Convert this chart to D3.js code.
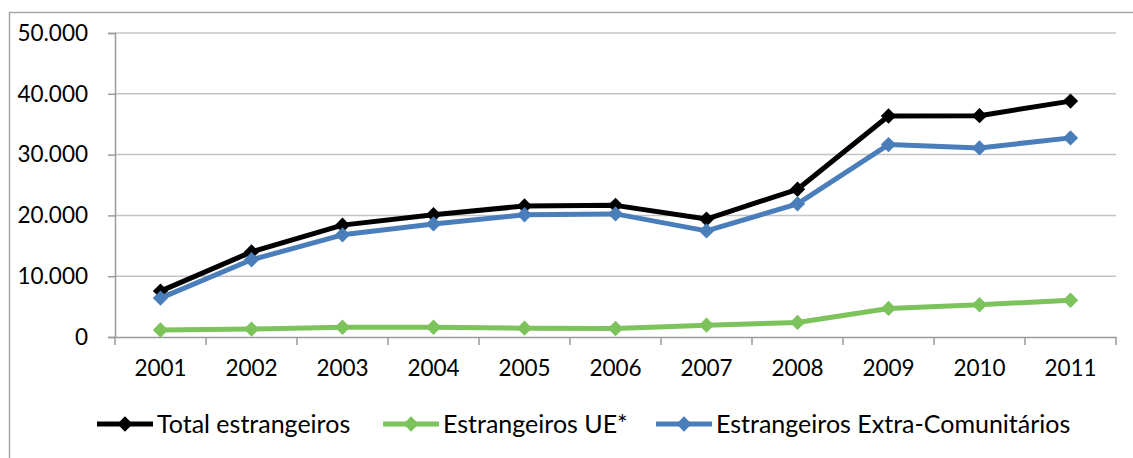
<!DOCTYPE html>
<html><head><meta charset="utf-8">
<script src="https://cdn.jsdelivr.net/npm/d3@7"></script>
<style>body{margin:0;background:#fff}svg{display:block}</style>
</head><body>
<svg id="c" width="1133" height="458"></svg>
<script>
const years = ["2001","2002","2003","2004","2005","2006","2007","2008","2009","2010","2011"];
const totalEstrangeiros = [7550,14000,18400,20100,21550,21650,19400,24300,36350,36400,38800];
const estrangeirosUE = [1150,1300,1600,1600,1450,1400,1950,2400,4700,5300,6050];
const estrangeirosExtra = [6400,12700,16800,18600,20100,20250,17450,21900,31650,31100,32750];
const yTicks = [0,10000,20000,30000,40000,50000];
const seriesNames = ["Total estrangeiros","Estrangeiros UE*","Estrangeiros Extra-Comunitários"];
const seriesColors = ["#000000","#7dc35b","#4a7ebb"];

const series = [
  {name: seriesNames[0], values: totalEstrangeiros, color: seriesColors[0]},
  {name: seriesNames[1], values: estrangeirosUE, color: seriesColors[1]},
  {name: seriesNames[2], values: estrangeirosExtra, color: seriesColors[2]}
];
const drawOrder = [series[1], series[0], series[2]];

const svg = d3.select("#c");
const FONT = "Lato, 'Open Sans', sans-serif";
const loc = d3.formatLocale({decimal:",", thousands:".", grouping:[3], currency:["",""]});
const fmt = loc.format(",d");

// outer frame
svg.append("rect").attr("x",9.5).attr("y",12.5).attr("width",1200).attr("height",600)
  .attr("fill","none").attr("stroke","#a6a6a6").attr("stroke-width",1.5);

const x = d3.scaleBand().domain(years).range([115,1116]);
const y = d3.scaleLinear().domain([0,50000]).range([337,33]);

// gridlines
svg.append("g").selectAll("line").data(yTicks.filter(d=>d>0)).join("line")
  .attr("x1",115).attr("x2",1116).attr("y1",d=>y(d)).attr("y2",d=>y(d))
  .attr("stroke","#c4c4c4").attr("stroke-width",1.5);

// y axis
const yAxis = svg.append("g").attr("transform","translate(115,0)")
  .call(d3.axisLeft(y).tickValues(yTicks).tickFormat(fmt).tickSize(7).tickPadding(20));
yAxis.select(".domain").attr("stroke","#9a9a9a").attr("stroke-width",1.5);
yAxis.selectAll(".tick line").attr("stroke","#9a9a9a").attr("stroke-width",1.5);
yAxis.selectAll("text").attr("font-family",FONT).attr("font-size",22.5).attr("fill","#000");

// x axis
const xAxis = svg.append("g").attr("transform","translate(0,337)")
  .call(d3.axisBottom(x).tickSize(0).tickPadding(23));
xAxis.select(".domain").attr("stroke","#9a9a9a").attr("stroke-width",1.5);
xAxis.selectAll("text").attr("font-family",FONT).attr("font-size",22.5).attr("fill","#000");
// category boundary ticks
const bounds = years.map(d=>x(d)).concat([x(years[years.length-1])+x.bandwidth()]);
svg.append("g").selectAll("line").data(bounds).join("line")
  .attr("x1",d=>d).attr("x2",d=>d).attr("y1",337).attr("y2",345)
  .attr("stroke","#9a9a9a").attr("stroke-width",1.5);

const cx = d => x(d) + x.bandwidth()/2;
const line = d3.line().x((v,i)=>cx(years[i])).y(v=>y(v));
const diamond = d3.symbol().type(d3.symbolDiamond2).size(150);

drawOrder.forEach(s => {
  const g = svg.append("g");
  g.append("path").attr("d", line(s.values)).attr("fill","none")
    .attr("stroke", s.color).attr("stroke-width",5).attr("stroke-linejoin","round");
  g.selectAll("path.m").data(s.values).join("path").attr("class","m")
    .attr("d", diamond).attr("fill", s.color)
    .attr("transform",(v,i)=>`translate(${cx(years[i])},${y(v)})`);
});

// legend
const legendX = [97, 383, 656];
const leg = svg.append("g");
series.forEach((s,i) => {
  const g = leg.append("g").attr("transform",`translate(${legendX[i]},424)`);
  g.append("line").attr("x1",0).attr("x2",56).attr("y1",0).attr("y2",0)
    .attr("stroke", s.color).attr("stroke-width",5);
  g.append("path").attr("d", diamond).attr("fill", s.color).attr("transform","translate(28,0)");
  g.append("text").attr("x",60).attr("y",0).attr("dy","0.36em")
    .attr("font-family",FONT).attr("font-size",25).attr("fill","#000").text(s.name);
});
</script>
</body></html>
